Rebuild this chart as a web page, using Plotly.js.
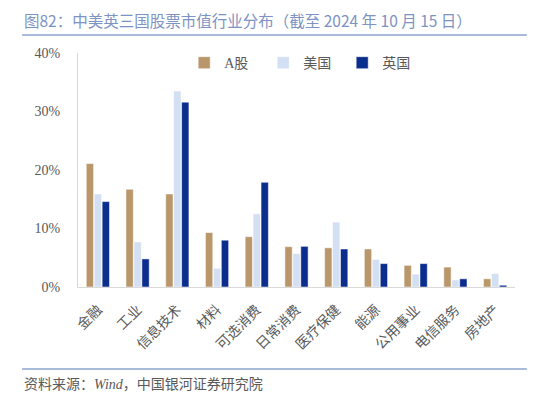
<!DOCTYPE html>
<html>
<head>
<meta charset="utf-8">
<script src="https://cdn.plot.ly/plotly-3.0.1.min.js"></script>
<style>html,body{margin:0;padding:0;background:#fff;}#chart{width:550px;height:399px;}</style>
</head>
<body>
<div id="chart"></div>
<script>
var categories = ["金融","工业","信息技术","材料","可选消费","日常消费","医疗保健","能源","公用事业","电信服务","房地产"];
var seriesNames = ["A股","美国","英国"];
var aShare = [21.1, 16.7, 15.9, 9.3, 8.6, 6.9, 6.7, 6.5, 3.7, 3.4, 1.4];
var usa    = [15.9, 7.7, 33.5, 3.2, 12.5, 5.7, 11.1, 4.7, 2.2, 1.2, 2.3];
var uk     = [14.6, 4.8, 31.6, 8.0, 17.9, 6.95, 6.5, 4.0, 4.0, 1.4, 0.3];
var yTickVals = [0, 10, 20, 30, 40];
var yTickText = ["0%","10%","20%","30%","40%"];
var titleText = "图82：中美英三国股票市值行业分布（截至 2024 年 10 月 15 日）";
var sourceText = "资料来源：<i>Wind</i>，中国银河证券研究院";

var colors = ["#b9976a", "#d3dff2", "#0a2d8e"];
var seriesData = [aShare, usa, uk];
var traces = seriesData.map(function(vals, i){
  return {
    type: "bar",
    name: seriesNames[i],
    x: categories,
    y: vals,
    marker: {color: colors[i], line: {color: "#ffffff", width: 0.5}},
    hoverinfo: "skip"
  };
});

var gray = "#595959";
var layout = {
  width: 550, height: 399,
  margin: {l: 78, r: 35, t: 53, b: 112},
  paper_bgcolor: "#ffffff",
  plot_bgcolor: "#ffffff",
  barmode: "group",
  bargap: 0.4,
  bargroupgap: 0.08,
  font: {family: "Liberation Serif, Noto Sans CJK SC, serif", color: gray, size: 13},
  showlegend: true,
  legend: {
    orientation: "h",
    x: 0.243, y: 0.957,
    xanchor: "left", yanchor: "middle",
    bgcolor: "rgba(0,0,0,0)",
    font: {family: "Liberation Serif, Noto Sans CJK SC, serif", size: 14, color: gray},
    entrywidth: 34,
    entrywidthmode: "pixels",
    traceorder: "normal"
  },
  xaxis: {
    type: "category",
    tickangle: -45,
    showline: true, linecolor: "#d9d9d9", linewidth: 1,
    ticks: "", showgrid: false, zeroline: false,
    ticklabelstandoff: 8,
    tickfont: {family: "Noto Sans CJK SC, sans-serif", size: 14, color: gray},
    fixedrange: true
  },
  yaxis: {
    range: [0, 40],
    tickvals: yTickVals, ticktext: yTickText,
    showline: true, linecolor: "#d9d9d9", linewidth: 1,
    ticks: "", showgrid: false, zeroline: false,
    ticklabelstandoff: 14,
    tickfont: {family: "Liberation Serif, serif", size: 14, color: gray},
    fixedrange: true
  },
  shapes: [
    {type: "line", xref: "paper", yref: "paper", x0: -0.128, x1: 1.027, y0: 1.077, y1: 1.077,
     line: {color: "#8ea3cf", width: 1.5}},
    {type: "line", xref: "paper", yref: "paper", x0: -0.128, x1: 1.027, y0: -0.350, y1: -0.350,
     line: {color: "#8ea3cf", width: 1.5}}
  ],
  annotations: [
    {xref: "paper", yref: "paper", x: -0.128, y: 1.141, xanchor: "left", yanchor: "middle",
     text: titleText, showarrow: false,
     font: {family: "Noto Sans CJK SC, sans-serif", size: 15.5, color: "#7d93c4"}},
    {xref: "paper", yref: "paper", x: -0.128, y: -0.415, xanchor: "left", yanchor: "middle",
     text: sourceText, showarrow: false,
     font: {family: "Liberation Serif, Noto Sans CJK SC, serif", size: 14, color: gray}}
  ]
};

Plotly.newPlot("chart", traces, layout, {displayModeBar: false, staticPlot: true});
</script>
</body>
</html>
